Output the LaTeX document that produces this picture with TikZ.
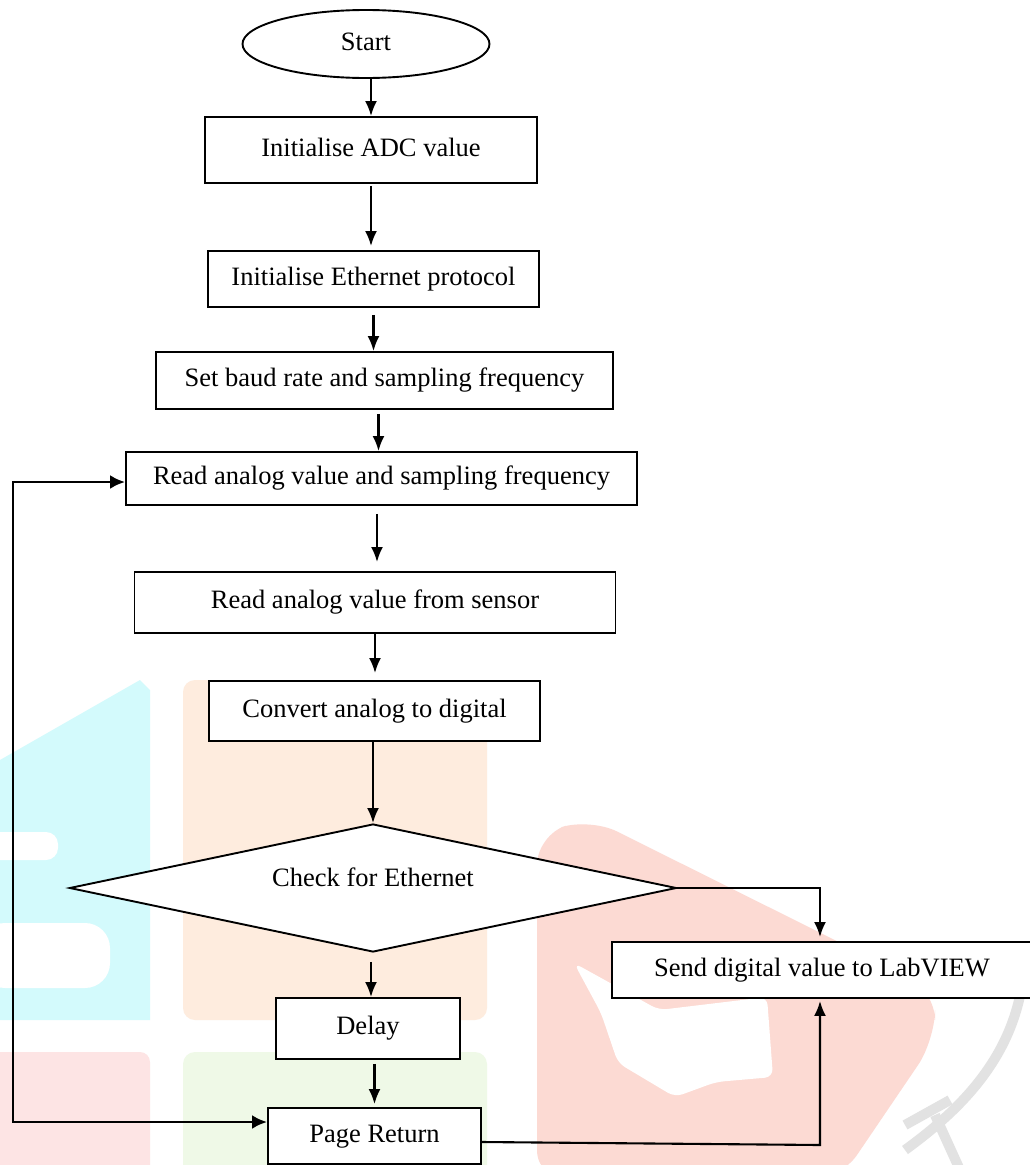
\documentclass[tikz,border=0pt]{standalone}
\usepackage{fontspec}
\setmainfont{Liberation Serif}
\usetikzlibrary{shapes.geometric,arrows.meta}
\definecolor{wmcyan}{HTML}{D3FAFC}
\definecolor{wmpeach}{HTML}{FEECDE}
\definecolor{wmpink}{HTML}{FDE4E4}
\definecolor{wmgreen}{HTML}{EFF9E7}
\definecolor{wmred}{HTML}{FCDAD3}
\definecolor{wmgray}{HTML}{E2E2E2}
\begin{document}
\begin{tikzpicture}[x=1pt,y=-1pt,
  txt/.style={font=\fontsize{26.5}{30}\selectfont, text height=18pt, text depth=6pt, inner sep=0pt},
  box/.style={txt, draw, line width=1.9pt, fill=white},
  arr/.style={line width=2.1pt, -{Latex[length=15pt,width=12pt]}},
  loopline/.style={line width=2.8pt, {Latex[length=15pt,width=14pt]}-{Latex[length=15pt,width=14pt]}}]
\path[use as bounding box, fill=white] (0,0) rectangle (1029,1165);
% watermark
\fill[wmcyan] (0,760) -- (140,680) -- (150,690) -- (150,1020) -- (0,1020) -- cycle;
\fill[white, rounded corners=12] (-20,832) rectangle (58,860);
\fill[white, rounded corners=25] (-20,923) rectangle (110,988);
\fill[wmpeach, rounded corners=12] (183,680) rectangle (487,1020);
\fill[wmpink, rounded corners=10] (-10,1052) rectangle (150,1180);
\fill[wmgreen, rounded corners=12] (183,1052) rectangle (487,1180);
\fill[wmred, rounded corners=30] (537,1180) -- (537,835) -- (590,818) -- (935,990) -- (935,1040) -- (840,1180) -- cycle;
\fill[white, rounded corners=8] (574,963) -- (659,1010) -- (767,997) -- (773,1077) -- (716,1082) -- (675,1097) -- (618,1063) -- (601,1013) -- cycle;
\draw[wmgray, line width=10pt] (1022,985) .. controls (1010,1060) and (960,1110) .. (905,1150);
\draw[wmgray, line width=10pt] (905,1125) -- (950,1100);
\draw[wmgray, line width=10pt] (935,1115) -- (960,1170);
% nodes
\node[ellipse, draw, line width=1.9pt, fill=white, minimum width=247pt, minimum height=68pt, txt] (start) at (366,44) {Start};
\node[box, minimum width=332pt, minimum height=66pt] (b1) at (371,150) {Initialise ADC value};
\node[box, minimum width=331pt, minimum height=56pt] (b2) at (373.5,279) {Initialise Ethernet protocol};
\node[box, minimum width=457pt, minimum height=57pt] (b3) at (384.5,380.5) {Set baud rate and sampling frequency};
\node[box, minimum width=511pt, minimum height=53pt] (b4) at (381.5,478.5) {Read analog value and sampling frequency};
\node[box, minimum width=481pt, minimum height=61pt] (b5) at (375,602.5) {Read analog value from sensor};
\node[box, minimum width=331pt, minimum height=60pt] (b6) at (374.5,711) {Convert analog to digital};
\node[diamond, draw, line width=1.9pt, fill=white, aspect=4.74, minimum width=607pt, minimum height=128pt, txt, text depth=22pt] (chk) at (373,888) {Check for Ethernet};
\node[box, minimum width=420pt, minimum height=56pt] (send) at (822,970) {Send digital value to LabVIEW};
\node[box, minimum width=184pt, minimum height=61pt] (delay) at (368,1028.5) {Delay};
\node[box, minimum width=213pt, minimum height=56pt] (pr) at (374.5,1136) {Page Return};
\coordinate (lt) at (13,482);
\coordinate (lb) at (13,1122);
% connectors
\draw[arr] (b1.north |- start.south) -- (b1.north);
\draw[arr, shorten <=2pt, shorten >=4pt] (b1.south) -- (b1.south |- b2.north);
\draw[arr, shorten <=7pt] (b2.south) -- (b2.south |- b3.north);
\draw[arr, shorten <=4pt] ([xshift=-6pt]b3.south) -- ([xshift=-6pt]b3.south |- b4.north);
\draw[arr, shorten <=8pt, shorten >=9pt] ([xshift=-4.5pt]b4.south) -- ([xshift=-4.5pt]b4.south |- b5.north);
\draw[arr, shorten >=7pt] (b5.south) -- (b5.south |- b6.north);
\draw[arr] (chk.north |- b6.south) -- (chk.north);
\draw[arr, shorten <=9pt] ([xshift=3pt]delay.north |- chk.south) -- ([xshift=3pt]delay.north);
\draw[arr, shorten <=4pt, shorten >=3pt] (pr.north |- delay.south) -- (pr.north);
\draw[arr, shorten >=4pt] (chk.east) -| ([xshift=-2pt]send.north);
\draw[arr, shorten >=2pt] ([yshift=-6pt]pr.east) -- ([yshift=-9pt,xshift=-2pt]send.south |- pr.east) -- ([xshift=-2pt]send.south);
\draw[loopline] (b4.west |- lt) -- (lt) -- (lb) -- (pr.west |- lb);
\end{tikzpicture}
\end{document}
